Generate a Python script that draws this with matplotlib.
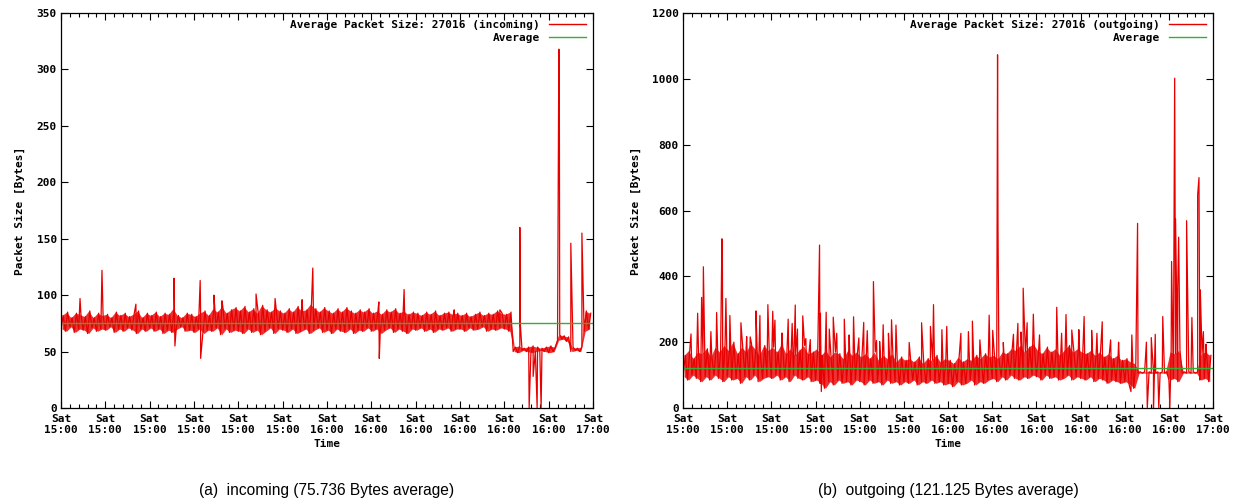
import numpy as np
import matplotlib.pyplot as plt

# ============================
# Datos, minutos desde las 15:00
# ============================
tick_minutes = [0, 10, 20, 30, 40, 50, 60, 70, 80, 90, 100, 110, 120]
tick_labels = ["Sat\n15:00"] * 6 + ["Sat\n16:00"] * 6 + ["Sat\n17:00"]

# incoming: envolvente por minuto (máximo / mínimo)
in_hi = [82, 85, 80, 84, 83, 81, 86, 80, 84, 82,
         83, 80, 85, 82, 84, 81, 83, 86, 80, 84,
         82, 85, 81, 84, 83, 88, 82, 80, 84, 83,
         81, 84, 86, 82, 88, 85, 90, 84, 87, 89,
         86, 90, 85, 88, 84, 91, 87, 85, 89, 86,
         84, 88, 85, 90, 86, 87, 92, 88, 85, 89,
         86, 84, 88, 85, 89, 86, 84, 87, 85, 88,
         84, 86, 83, 87, 85, 88, 84, 86, 83, 85,
         84, 82, 85, 83, 86, 82, 84, 85, 83, 84,
         82, 84, 81, 83, 85, 82, 84, 83, 86, 84,
         83, 85, 54, 55, 53, 54, 55, 54, 53, 54,
         55, 54, 65, 64, 63, 54, 53, 54, 86, 84]
in_lo = [70, 68, 72, 67, 70, 69, 66, 71, 68, 70,
         69, 72, 67, 70, 68, 71, 69, 66, 70, 68,
         71, 68, 70, 66, 69, 67, 70, 72, 68, 69,
         67, 70, 66, 69, 68, 71, 65, 70, 67, 69,
         68, 66, 70, 67, 69, 65, 68, 71, 66, 70,
         69, 67, 70, 66, 68, 70, 66, 69, 71, 67,
         69, 66, 70, 68, 67, 70, 66, 69, 68, 71,
         68, 70, 66, 69, 71, 67, 70, 68, 66, 70,
         69, 71, 68, 70, 67, 70, 69, 71, 68, 70,
         70, 68, 71, 69, 70, 72, 68, 70, 69, 71,
         70, 68, 50, 49, 51, 50, 49, 50, 51, 50,
         49, 50, 60, 61, 59, 50, 51, 50, 68, 70]
in_spike_t = [4.3, 9.25, 16.9, 25.5, 25.7, 31.4, 31.5, 34.5, 36.3, 44.0,
              48.3, 54.4, 56.8, 71.7, 71.8, 77.4, 88.7, 99.0, 103.5, 103.6,
              105.6, 106.5, 107.4, 108.3, 112.3, 112.4, 115.0, 117.5]
in_spike_v = [97, 122, 92, 115, 55, 113, 44, 100, 95, 101,
              97, 96, 124, 94, 44, 105, 87, 87, 160, 75,
              0, 28, 0, 0, 318, 305, 146, 155]
in_avg = 75.736

# outgoing
out_hi = [160, 175, 150, 170, 165, 180, 155, 185, 170, 190,
          175, 200, 165, 185, 170, 195, 180, 160, 190, 175,
          185, 170, 195, 165, 180, 160, 175, 190, 165, 170,
          180, 160, 175, 155, 170, 165, 150, 175, 160, 170,
          155, 165, 150, 170, 145, 160, 150, 165, 140, 155,
          145, 150, 140, 155, 135, 150, 145, 160, 140, 150,
          145, 135, 155, 140, 150, 145, 160, 150, 165, 155,
          160, 150, 170, 165, 180, 175, 190, 170, 185, 195,
          175, 165, 185, 170, 180, 160, 175, 190, 170, 180,
          170, 165, 175, 160, 170, 155, 165, 150, 160, 145,
          150, 140, 135, 110, 110, 110, 110, 110, 110, 110,
          170, 165, 175, 110, 110, 110, 110, 165, 170, 160]
out_lo = [95, 85, 100, 90, 80, 95, 85, 100, 90, 80,
          95, 85, 90, 75, 95, 85, 100, 80, 90, 95,
          90, 100, 85, 95, 80, 100, 90, 85, 95, 80,
          85, 75, 60, 80, 70, 85, 75, 80, 70, 85,
          80, 70, 85, 75, 80, 70, 85, 75, 80, 70,
          80, 75, 85, 70, 80, 75, 85, 75, 80, 70,
          75, 65, 80, 70, 75, 85, 70, 80, 75, 85,
          90, 80, 95, 85, 100, 90, 85, 95, 90, 100,
          95, 85, 100, 90, 95, 85, 90, 100, 85, 95,
          90, 85, 95, 80, 90, 85, 75, 85, 80, 75,
          80, 70, 60, 106, 106, 106, 106, 106, 106, 106,
          85, 90, 80, 106, 106, 106, 106, 85, 90, 80]
out_spike_t = [1.8, 3.3, 4.2, 4.6, 6.3, 7.6, 8.8, 8.9, 9.7, 10.6,
               13.1, 14.4, 15.2, 16.5, 17.4, 19.2, 20.3, 20.8, 22.4, 23.8,
               24.7, 25.4, 25.9, 27.1, 27.8, 28.8, 30.9, 31.1, 31.3, 32.4,
               33.1, 34.0, 34.8, 36.5, 37.6, 38.6, 39.8, 40.9, 41.7, 43.1,
               43.8, 44.5, 45.3, 46.5, 47.2, 48.2, 51.2, 54.0, 56.0, 56.7,
               58.6, 59.7, 62.9, 64.6, 65.5, 67.2, 69.3, 70.1, 71.2, 71.3,
               72.5, 74.8, 75.8, 76.5, 77.0, 77.9, 79.3, 80.7, 84.6, 85.7,
               86.7, 88.0, 89.6, 90.8, 92.5, 93.7, 94.9, 96.8, 98.6, 101.4,
               101.6, 102.9, 104.9, 105.1, 106.0, 106.5, 106.9, 107.7, 108.6, 110.2,
               110.6, 111.3, 111.5, 112.0, 112.2, 114.0, 115.2, 116.5, 116.8, 117.1,
               117.8, 118.4]
out_spike_v = [225, 288, 336, 429, 232, 290, 514, 455, 333, 281,
               259, 217, 216, 295, 281, 314, 294, 267, 228, 270,
               257, 313, 240, 280, 211, 208, 495, 288, 50, 291,
               240, 276, 227, 270, 222, 277, 213, 260, 235, 384,
               205, 202, 253, 227, 268, 252, 199, 259, 248, 314,
               238, 248, 227, 232, 264, 207, 282, 236, 1073, 555,
               199, 224, 257, 231, 364, 259, 285, 222, 306, 227,
               284, 237, 238, 278, 236, 227, 262, 207, 200, 50,
               222, 561, 200, 0, 214, 0, 224, 0, 278, 0,
               445, 1002, 574, 364, 519, 569, 275, 647, 700, 359,
               232, 194]
out_avg = 121.125


def build_series(hi, lo, sp_t, sp_v):
    t = []
    v = []
    for i in range(len(hi)):
        t += [i, i + 0.5]
        v += [lo[i], hi[i]]
    t += list(sp_t)
    v += list(sp_v)
    order = np.argsort(t, kind="stable")
    return np.array(t)[order], np.array(v)[order]


mono = {"family": "DejaVu Sans Mono", "weight": "bold", "size": 8}
red = "#e80000"

fig = plt.figure(figsize=(12.39, 4.98), dpi=100)
ax_in = fig.add_axes([0.0492, 0.1807, 0.4294, 0.7932])
ax_out = fig.add_axes([0.5513, 0.1807, 0.4278, 0.7932])

panels = [
    (ax_in, in_hi, in_lo, in_spike_t, in_spike_v, in_avg, 350, 50,
     "Average Packet Size: 27016 (incoming)", "(a)  incoming (75.736 Bytes average)"),
    (ax_out, out_hi, out_lo, out_spike_t, out_spike_v, out_avg, 1200, 200,
     "Average Packet Size: 27016 (outgoing)", "(b)  outgoing (121.125 Bytes average)"),
]

for ax, hi, lo, st, sv, avg, ymax, ystep, name, caption in panels:
    # banda densa de muestras entre mínimo y máximo de cada minuto
    mid = np.arange(len(hi)) + 0.25
    ax.fill_between(mid, lo, hi, color=red, lw=0, alpha=0.8)
    t, v = build_series(hi, lo, st, sv)
    ax.plot(t, v, color=red, lw=0.9, label=name)
    ax.plot([0, 120], [avg, avg], color="#33b033", lw=1.0, label="Average")
    ax.set_xlim(0, 120)
    ax.set_ylim(0, ymax)
    ax.set_xticks(tick_minutes)
    ax.set_xticklabels(tick_labels, fontdict=mono)
    ax.set_xticks(np.arange(0, 121, 2), minor=True)
    yt = np.arange(0, ymax + 1, ystep)
    ax.set_yticks(yt)
    ax.set_yticklabels([str(int(y)) for y in yt], fontdict=mono)
    ax.tick_params(direction="in", top=True, right=True, length=5, width=0.8, pad=4)
    ax.tick_params(which="minor", direction="in", top=True, right=False, length=3, width=0.8)
    ax.tick_params(axis="y", pad=3)
    for s in ax.spines.values():
        s.set_linewidth(0.9)
    ax.set_xlabel("Time", fontdict=mono, labelpad=3)
    ax.set_ylabel("Packet Size [Bytes]", fontdict=mono, labelpad=8)
    leg = ax.legend(loc="upper right", frameon=False, markerfirst=False,
                    prop=mono, handlelength=3.4, borderaxespad=0.2,
                    labelspacing=0.3, handletextpad=0.8)
    for line in leg.get_lines():
        line.set_linewidth(1.0)
    leg._legend_box.align = "right"
    ax.text(0.5, -0.19, caption, transform=ax.transAxes, ha="center", va="top",
            fontsize=11.2, family="Liberation Sans")

fig.savefig("out.png", dpi=100)
